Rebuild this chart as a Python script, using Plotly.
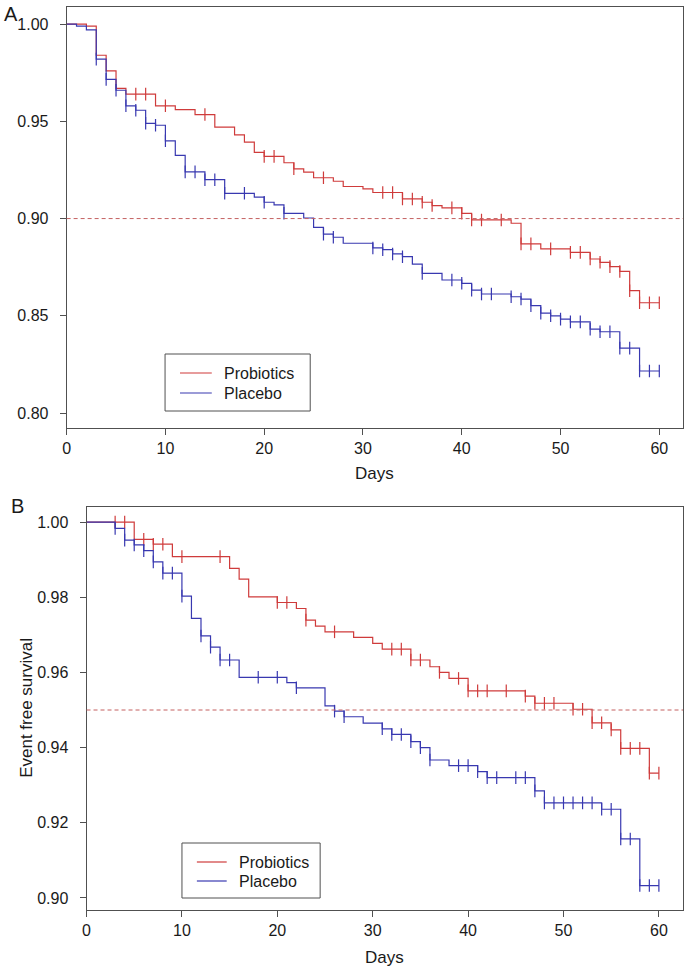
import numpy as np
import plotly.graph_objects as go

W, H = 687, 972
FONT = "Liberation Sans, Arial, Helvetica, sans-serif"
RED = "#cf3b3b"
BLUE = "#3838b0"
REF = "#c46060"
FRAME = "#505050"
TXT = "#1a1a1a"

# ---------------- Panel A data ----------------
a_pro_days = [0, 2, 3, 4, 5, 6, 9, 11, 13, 15, 17, 18, 19, 20, 22, 23, 24, 25, 27, 28, 30, 31, 34,
              36, 37, 38, 40, 41, 45, 46, 48, 51, 53, 54, 55, 56, 57, 58]
a_pro_surv = [1.0, 0.999, 0.984, 0.976, 0.967, 0.964, 0.958, 0.956, 0.9535, 0.947, 0.943, 0.9393,
              0.934, 0.932, 0.9287, 0.9256, 0.9239, 0.921, 0.9192, 0.9165, 0.9153, 0.9134, 0.9101,
              0.9084, 0.9067, 0.9055, 0.9027, 0.8993, 0.8976, 0.887, 0.8844, 0.8826, 0.8792, 0.8775,
              0.8753, 0.8728, 0.8629, 0.8567]
a_pro_cens = [7, 8, 10, 14, 20, 21, 23, 26, 32, 33, 34, 35, 36, 37, 39, 40, 41, 42, 44, 46, 47, 49,
              51, 52, 53, 54, 55, 56, 57, 58, 59, 60]

a_pla_days = [0, 1, 2, 3, 4, 5, 6, 7, 8, 9, 10, 11, 12, 14, 16, 19, 20, 21, 22, 24, 25, 26, 27, 28,
              31, 32, 33, 34, 35, 36, 38, 40, 41, 42, 45, 46, 47, 48, 49, 50, 51, 53, 54, 56, 58]
a_pla_surv = [1.0, 0.999, 0.997, 0.982, 0.9716, 0.966, 0.958, 0.9557, 0.949, 0.948, 0.940, 0.9325,
              0.924, 0.920, 0.913, 0.911, 0.9084, 0.907, 0.9027, 0.9003, 0.8955, 0.892, 0.8904,
              0.8873, 0.8849, 0.884, 0.8818, 0.8804, 0.8766, 0.8718, 0.8684, 0.8667, 0.8632, 0.8612,
              0.8598, 0.8586, 0.8552, 0.8514, 0.850, 0.8483, 0.8469, 0.8431, 0.8418, 0.8334, 0.8216]
a_pla_cens = [3, 4, 5, 6, 7, 8, 9, 10, 12, 13, 14, 15, 16, 18, 20, 22, 26, 27, 31, 32, 33, 34, 36,
              39, 40, 41, 42, 43, 45, 46, 47, 48, 49, 50, 51, 52, 53, 54, 55, 56, 57, 58, 59, 60]

# ---------------- Panel B data ----------------
b_pro_days = [0, 5, 7, 9, 15, 16, 17, 20, 22, 23, 24, 25, 28, 30, 31, 34, 36, 37, 38, 40, 46, 47,
              51, 53, 55, 56, 59]
b_pro_surv = [1.0, 0.9954, 0.9941, 0.9908, 0.9877, 0.9848, 0.9801, 0.9786, 0.977, 0.9739, 0.9723,
              0.9708, 0.9693, 0.9677, 0.9662, 0.9633, 0.9615, 0.960, 0.9584, 0.9551, 0.9537, 0.9518,
              0.9502, 0.9466, 0.9447, 0.9398, 0.9332]
b_pro_cens = [3, 4, 6, 7, 8, 10, 14, 20, 21, 23, 26, 32, 33, 34, 35, 37, 39, 40, 41, 42, 44, 46, 47,
              48, 49, 51, 52, 53, 54, 55, 56, 57, 58, 59, 60]

b_pla_days = [0, 3, 4, 5, 6, 7, 8, 10, 11, 12, 13, 14, 16, 21, 22, 25, 26, 27, 29, 31, 32, 34, 35,
              36, 38, 41, 42, 47, 48, 54, 56, 58]
b_pla_surv = [1.0, 0.9983, 0.9952, 0.9939, 0.9924, 0.9894, 0.9864, 0.9803, 0.9744, 0.9697, 0.9667,
              0.9633, 0.9587, 0.9573, 0.9559, 0.9511, 0.9497, 0.9482, 0.9465, 0.945, 0.9435, 0.9416,
              0.940, 0.9367, 0.9352, 0.9336, 0.932, 0.9285, 0.9253, 0.9236, 0.9157, 0.9033]
b_pla_cens = [3, 4, 5, 6, 7, 8, 9, 10, 12, 13, 14, 15, 18, 20, 22, 26, 27, 31, 32, 33, 34, 35, 36,
              39, 40, 41, 42, 43, 45, 46, 47, 48, 49, 50, 51, 52, 53, 54, 55, 56, 57, 58, 59, 60]

END_DAY = 60
groups = ["Probiotics", "Placebo"]
a_ref, b_ref = 0.90, 0.95
a_yticks = [0.80, 0.85, 0.90, 0.95, 1.00]
b_yticks = [0.90, 0.92, 0.94, 0.96, 0.98, 1.00]
xticks = [0, 10, 20, 30, 40, 50, 60]


def px(x):
    return x / W


def py(y):
    return 1 - y / H


fig = go.Figure()


def add_curve(days, surv, cens, color, xa, ya):
    xs = list(days) + [END_DAY]
    ys = list(surv) + [surv[-1]]
    fig.add_trace(go.Scatter(x=xs, y=ys, mode="lines", line=dict(color=color, width=1.2, shape="hv"),
                             xaxis=xa, yaxis=ya, showlegend=False, hoverinfo="skip"))
    d = np.array(days)
    s = np.array(surv)
    cy = [s[np.searchsorted(d, c, side="right") - 1] for c in cens]
    fig.add_trace(go.Scatter(x=cens, y=cy, mode="markers",
                             marker=dict(symbol="line-ns", size=9, line=dict(color=color, width=1.2)),
                             xaxis=xa, yaxis=ya, showlegend=False, hoverinfo="skip"))


add_curve(a_pro_days, a_pro_surv, a_pro_cens, RED, "x", "y")
add_curve(a_pla_days, a_pla_surv, a_pla_cens, BLUE, "x", "y")
add_curve(b_pro_days, b_pro_surv, b_pro_cens, RED, "x2", "y2")
add_curve(b_pla_days, b_pla_surv, b_pla_cens, BLUE, "x2", "y2")

axis_common = dict(showline=True, linecolor=FRAME, linewidth=1, mirror=True, ticks="outside",
                   ticklen=6, tickcolor=FRAME, tickwidth=1, showgrid=False, zeroline=False,
                   tickfont=dict(family=FONT, size=16, color=TXT))

fig.update_layout(
    width=W, height=H, margin=dict(l=0, r=0, t=0, b=0),
    paper_bgcolor="white", plot_bgcolor="white",
    font=dict(family=FONT, size=16, color=TXT),
    xaxis=dict(domain=[px(63), px(683)], range=[0, 62.4], tickvals=xticks, anchor="y", **axis_common),
    yaxis=dict(domain=[py(428), py(7)], range=[0.7923, 1.0088], tickvals=a_yticks,
               tickformat=".2f", anchor="x", ticklabelstandoff=8, **axis_common),
    xaxis2=dict(domain=[px(83), px(683)], range=[0, 62.53], tickvals=xticks, anchor="y2", **axis_common),
    yaxis2=dict(domain=[py(910), py(507)], range=[0.8968, 1.004], tickvals=b_yticks,
                tickformat=".2f", anchor="x2", ticklabelstandoff=8, **axis_common),
)

shapes = [
    dict(type="line", xref="x domain", yref="y", x0=0, x1=1, y0=a_ref, y1=a_ref,
         line=dict(color=REF, width=1, dash="4px,3px")),
    dict(type="line", xref="x2 domain", yref="y2", x0=0, x1=1, y0=b_ref, y1=b_ref,
         line=dict(color=REF, width=1, dash="4px,3px")),
]
annotations = []


def add_legend(x0, x1, y0, y1, lx0, lx1, tx, ys):
    shapes.append(dict(type="rect", xref="paper", yref="paper", x0=px(x0), x1=px(x1), y0=py(y1), y1=py(y0),
                       line=dict(color=FRAME, width=1), fillcolor="white", layer="above"))
    for name, col, yy in zip(groups, [RED, BLUE], ys):
        shapes.append(dict(type="line", xref="paper", yref="paper", x0=px(lx0), x1=px(lx1),
                           y0=py(yy), y1=py(yy), line=dict(color=col, width=1.2), layer="above"))
        annotations.append(dict(text=name, xref="paper", yref="paper", x=px(tx), y=py(yy),
                                xanchor="left", yanchor="middle", showarrow=False,
                                font=dict(family=FONT, size=16, color=TXT)))


add_legend(162, 308, 354, 411, 177, 209, 219, [373, 393])
add_legend(179, 318, 843, 898, 194, 224, 234, [862, 881])

for text, x, y, size, angle in [("Days", 373, 473, 17, 0), ("Days", 383, 957, 17, 0),
                                ("Event free survival", 22, 708, 17, -90),
                                ("A", 7, 14, 20, 0), ("B", 14, 506, 20, 0)]:
    annotations.append(dict(text=text, xref="paper", yref="paper", x=px(x), y=py(y),
                            xanchor="center", yanchor="middle", showarrow=False, textangle=angle,
                            font=dict(family=FONT, size=size, color=TXT)))

fig.update_layout(shapes=shapes, annotations=annotations)
fig.write_html("out.html", config={"displayModeBar": False},
               post_script="document.body.style.margin='0px';"
                           "document.documentElement.style.overflow='hidden';")
